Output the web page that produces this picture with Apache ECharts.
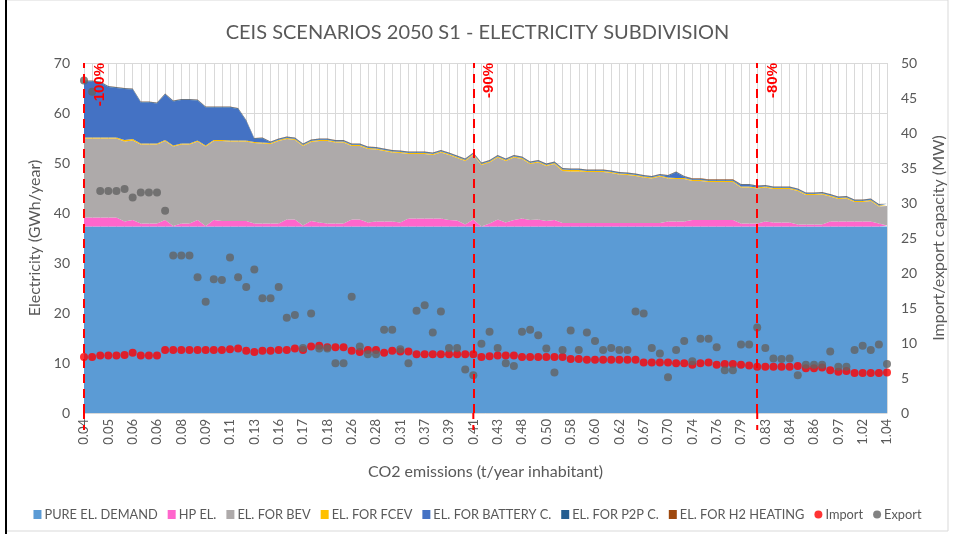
<!DOCTYPE html>
<html>
<head>
<meta charset="utf-8">
<script src="https://cdn.jsdelivr.net/npm/echarts@6/dist/echarts.min.js"></script>
<style>
html,body{margin:0;padding:0;background:#fff;}
#c{width:955px;height:534px;}
</style>
</head>
<body>
<div id="c"></div>
<script>
// ---- DATA ----
const co2 = [
'0.04','0.04','0.04','0.05','0.05','0.05','0.06','0.06','0.06','0.06',
'0.07','0.07','0.08','0.08','0.09','0.09','0.10','0.10','0.11','0.12',
'0.12','0.13','0.14','0.15','0.16','0.16','0.17','0.17','0.17','0.18',
'0.18','0.21','0.24','0.26','0.27','0.27','0.28','0.29','0.30','0.31',
'0.33','0.35','0.37','0.38','0.38','0.39','0.40','0.40','0.41','0.42',
'0.42','0.43','0.45','0.46','0.48','0.49','0.49','0.50','0.53','0.55',
'0.58','0.59','0.59','0.60','0.61','0.61','0.62','0.64','0.65','0.67',
'0.68','0.69','0.70','0.72','0.73','0.74','0.75','0.75','0.76','0.77',
'0.78','0.79','0.80','0.81','0.83','0.83','0.84','0.84','0.85','0.85',
'0.86','0.90','0.94','0.97','0.99','1.00','1.02','1.03','1.03','1.04'];

const pureDemand = [
37.3,37.3,37.3,37.3,37.3,37.3,37.3,37.3,37.3,37.3,
37.3,37.3,37.3,37.3,37.3,37.3,37.3,37.3,37.3,37.3,
37.3,37.3,37.3,37.3,37.3,37.3,37.3,37.3,37.3,37.3,
37.3,37.3,37.3,37.3,37.3,37.3,37.3,37.3,37.3,37.3,
37.3,37.3,37.3,37.3,37.3,37.3,37.3,37.3,37.3,37.3,
37.3,37.3,37.3,37.3,37.3,37.3,37.3,37.3,37.3,37.3,
37.3,37.3,37.3,37.3,37.3,37.3,37.3,37.3,37.3,37.3,
37.3,37.3,37.3,37.3,37.3,37.3,37.3,37.3,37.3,37.3,
37.3,37.3,37.3,37.3,37.3,37.3,37.3,37.3,37.3,37.3,
37.3,37.3,37.3,37.3,37.3,37.3,37.3,37.3,37.3,37.3];

const hpEl = [
1.8,1.8,1.8,1.8,1.8,1.0,1.3,0.6,0.6,0.6,
1.3,0.1,0.6,0.6,1.3,0.1,1.3,1.1,1.1,1.1,
1.1,0.6,0.6,0.6,0.6,1.4,1.4,0.2,1.1,0.8,
0.6,0.6,0.6,1.4,1.4,0.8,1.0,1.0,1.0,0.8,
1.6,1.6,1.6,1.6,1.6,1.3,1.2,0.4,1.4,0.0,
0.6,1.4,0.8,1.3,1.6,1.3,1.4,1.1,1.3,0.7,
0.7,0.7,0.7,0.7,0.7,0.7,0.7,0.7,0.7,0.7,
0.7,0.7,1.0,1.0,1.0,1.3,1.3,1.3,1.3,1.3,
1.3,0.6,0.6,0.6,1.0,0.8,0.8,0.8,0.4,0.4,
0.4,0.4,1.0,1.0,1.0,1.0,1.0,1.0,0.6,0.2];

const bevEl = [
15.8,15.8,15.8,15.8,15.8,16.0,15.9,15.8,15.8,15.8,
15.8,15.9,15.8,15.8,15.7,15.9,15.8,16.0,15.9,15.9,
15.9,16.1,16.0,15.9,16.5,16.1,15.9,15.9,15.8,16.3,
16.5,16.2,16.2,14.7,14.7,14.7,14.4,14.1,13.8,13.9,
12.9,12.9,12.9,12.7,13.2,13.0,12.5,12.7,12.9,12.3,
12.2,12.4,12.3,12.5,11.9,11.2,11.4,11.0,11.2,10.4,
10.3,10.3,10.2,10.2,10.2,10.0,9.7,9.6,9.4,9.1,
8.9,9.3,8.6,8.5,8.5,7.8,7.8,7.6,7.6,7.6,
7.6,7.2,7.2,7.0,6.8,6.7,6.7,6.7,6.7,5.9,
5.9,6.0,5.0,4.5,4.6,3.9,3.9,4.1,3.4,3.9];

const fcevEl = [
0.2,0.2,0.2,0.2,0.2,0.3,0.3,0.2,0.2,0.2,
0.2,0.2,0.2,0.2,0.2,0.2,0.2,0.2,0.2,0.2,
0.2,0.2,0.2,0.2,0.2,0.2,0.2,0.2,0.2,0.2,
0.2,0.2,0.2,0.2,0.2,0.2,0.2,0.2,0.2,0.2,
0.2,0.2,0.2,0.2,0.2,0.2,0.2,0.2,0.2,0.2,
0.2,0.2,0.2,0.2,0.2,0.2,0.2,0.2,0.2,0.3,
0.3,0.3,0.2,0.2,0.2,0.2,0.2,0.2,0.2,0.2,
0.2,0.2,0.2,0.2,0.2,0.2,0.2,0.2,0.2,0.2,
0.2,0.2,0.2,0.2,0.2,0.2,0.2,0.2,0.2,0.2,
0.2,0.2,0.2,0.2,0.2,0.2,0.2,0.2,0.2,0.2];

const batteryEl = [
11.2,11.2,11.0,10.1,9.9,10.2,9.9,8.2,8.2,8.0,
9.1,8.8,8.7,8.7,8.0,7.6,6.5,6.5,6.6,6.3,
3.9,0.6,0.8,0.1,0.1,0.1,0.1,0.1,0.1,0.1,
0.1,0.1,0.1,0.1,0.1,0.1,0.1,0.1,0.1,0.1,
0.1,0.1,0.1,0.1,0.1,0.1,0.1,0.1,0.1,0.1,
0.1,0.1,0.1,0.1,0.1,0.1,0.1,0.1,0.1,0.1,
0.1,0.1,0.1,0.1,0.1,0.1,0.1,0.1,0.1,0.1,
0.1,0.1,0.3,1.1,0.2,0.1,0.1,0.1,0.1,0.1,
0.1,0.3,0.3,0.2,0.1,0.1,0.1,0.1,0.1,0.1,
0.1,0.1,0.1,0.1,0.1,0.1,0.1,0.1,0.1,0.1];

const p2pEl = [
0.15,0.15,0.15,0.15,0.15,0.15,0.15,0.15,0.15,0.15,
0.15,0.15,0.15,0.15,0.15,0.15,0.15,0.15,0.15,0.15,
0.15,0.15,0.15,0.15,0.15,0.15,0.15,0.15,0.15,0.15,
0.15,0.15,0.15,0.15,0.15,0.15,0.15,0.15,0.15,0.15,
0.15,0.15,0.15,0.15,0.15,0.15,0.15,0.15,0.15,0.15,
0.15,0.15,0.15,0.15,0.15,0.15,0.15,0.15,0.15,0.15,
0.15,0.15,0.15,0.15,0.15,0.15,0.15,0.15,0.15,0.15,
0.15,0.15,0.15,0.15,0.15,0.15,0.15,0.15,0.15,0.15,
0.15,0.15,0.15,0.15,0.15,0.15,0.15,0.15,0.15,0.15,
0.15,0.15,0.15,0.15,0.15,0.15,0.15,0.15,0.15,0.15];

const h2HeatingEl = [
0.05,0.05,0.05,0.05,0.05,0.05,0.05,0.05,0.05,0.05,
0.05,0.05,0.05,0.05,0.05,0.05,0.05,0.05,0.05,0.05,
0.05,0.05,0.05,0.05,0.05,0.05,0.05,0.05,0.05,0.05,
0.05,0.05,0.05,0.05,0.05,0.05,0.05,0.05,0.05,0.05,
0.05,0.05,0.05,0.05,0.05,0.05,0.05,0.05,0.05,0.05,
0.05,0.05,0.05,0.05,0.05,0.05,0.05,0.05,0.05,0.05,
0.05,0.05,0.05,0.05,0.05,0.05,0.05,0.05,0.05,0.05,
0.05,0.05,0.05,0.05,0.05,0.1,0.1,0.1,0.1,0.1,
0.1,0.05,0.05,0.05,0.05,0.05,0.05,0.05,0.05,0.05,
0.05,0.05,0.05,0.05,0.05,0.05,0.05,0.05,0.05,0.05];

const importMW = [
8.0,8.0,8.2,8.2,8.2,8.3,8.6,8.2,8.2,8.2,
9.0,9.0,9.0,9.0,9.0,9.0,9.0,9.0,9.1,9.2,
8.9,8.7,8.9,8.9,9.0,9.0,9.2,9.0,9.5,9.6,
9.4,9.4,9.4,8.9,8.7,9.0,9.0,8.6,8.9,8.8,
8.8,8.4,8.4,8.4,8.4,8.4,8.4,8.4,8.4,8.0,
8.1,8.2,8.2,8.2,8.0,8.0,8.0,8.0,8.0,8.0,
7.7,7.7,7.6,7.6,7.6,7.6,7.6,7.6,7.6,7.2,
7.2,7.2,7.2,7.1,7.1,6.9,7.1,7.2,6.9,7.0,
7.0,6.9,6.8,6.6,6.6,6.6,6.6,6.6,6.7,6.4,
6.4,6.5,6.1,5.9,6.0,5.7,5.7,5.7,5.7,5.8];

const exportMW = [
47.5,45.9,31.7,31.7,31.7,32.0,30.8,31.5,31.5,31.5,
28.9,22.5,22.5,22.5,19.4,15.9,19.1,19.0,22.2,19.4,
18.0,20.5,16.4,16.4,18.0,13.6,14.0,9.3,14.2,9.2,
9.2,7.1,7.1,16.6,9.5,8.4,8.4,11.9,11.9,9.1,
7.1,14.6,15.4,11.5,14.5,9.3,9.3,6.2,5.4,9.9,
11.6,9.3,7.1,6.7,11.6,11.9,11.1,9.2,5.8,9.0,
11.8,9.0,11.5,10.3,9.0,9.3,9.0,9.0,14.5,14.2,
9.3,8.5,5.1,9.0,10.3,7.4,10.6,10.6,9.4,6.1,
6.1,9.8,9.8,12.2,9.3,7.8,7.7,7.8,5.4,6.9,
6.9,6.9,8.8,6.6,6.6,9.0,9.6,9.0,9.8,7.0];

const reductionMarks = [
  {idx: 0, label: '-100%'},
  {idx: 48, label: '-90%'},
  {idx: 83, label: '-80%'}
];

const yLeftTicks = {min: 0, max: 70, interval: 10};
const yRightTicks = {min: 0, max: 50, interval: 5};

// ---- CHART ----
const FONT = 'Lato';
const TXT = '#595959';
const chart = echarts.init(document.getElementById('c'), null, {renderer: 'canvas'});

function area(name, data, color, extra) {
  return Object.assign({
    name: name, type: 'line', stack: 'el', data: data,
    symbol: 'none', showSymbol: false,
    lineStyle: {width: 0, color: color},
    itemStyle: {color: color},
    areaStyle: {color: color, opacity: 1},
    emphasis: {disabled: true},
    animation: false, z: 2
  }, extra || {});
}

const option = {
  animation: false,
  textStyle: {fontFamily: FONT},
  title: {
    text: 'CEIS SCENARIOS 2050 S1 - ELECTRICITY SUBDIVISION',
    left: 'center', top: 18,
    textStyle: {fontFamily: FONT, fontSize: 20, fontWeight: 'normal', color: TXT}
  },
  grid: {left: 84, right: 67, top: 63, bottom: 121, containLabel: false},
  legend: {
    bottom: 8, left: 'center',
    itemWidth: 8, itemHeight: 9, itemGap: 10,
    textStyle: {fontFamily: FONT, fontSize: 12.8, color: TXT, padding: [0,0,0,-2]},
    data: [
      {name: 'PURE EL. DEMAND', icon: 'rect'},
      {name: 'HP EL.', icon: 'rect'},
      {name: 'EL. FOR BEV', icon: 'rect'},
      {name: 'EL. FOR FCEV', icon: 'rect'},
      {name: 'EL. FOR BATTERY C.', icon: 'rect'},
      {name: 'EL. FOR P2P C.', icon: 'rect'},
      {name: 'EL. FOR H2 HEATING', icon: 'rect'},
      {name: 'Import', icon: 'circle'},
      {name: 'Export', icon: 'circle'}
    ]
  },
  xAxis: {
    type: 'category', data: co2, boundaryGap: false,
    name: 'CO2 emissions (t/year inhabitant)', nameLocation: 'middle', nameGap: 51,
    nameTextStyle: {fontFamily: FONT, fontSize: 16, color: TXT},
    axisLine: {show: true, lineStyle: {color: '#D9D9D9'}},
    axisTick: {show: false},
    axisLabel: {interval: 2, rotate: 90, fontFamily: FONT, fontSize: 13, color: TXT, margin: 6},
    splitLine: {show: true, interval: 0, lineStyle: {color: '#D9D9D9', width: 1}}
  },
  yAxis: [
    {
      type: 'value', min: yLeftTicks.min, max: yLeftTicks.max, interval: yLeftTicks.interval,
      name: 'Electricity (GWh/year)', nameLocation: 'middle', nameGap: 40, nameRotate: 90,
      nameTextStyle: {fontFamily: FONT, fontSize: 16, color: TXT},
      axisLine: {show: false}, axisTick: {show: false},
      axisLabel: {fontFamily: FONT, fontSize: 14, color: TXT, margin: 14},
      splitLine: {show: true, lineStyle: {color: '#D9D9D9'}}
    },
    {
      type: 'value', min: yRightTicks.min, max: yRightTicks.max, interval: yRightTicks.interval,
      name: 'Import/export capacity (MW)', nameLocation: 'middle', nameGap: 44, nameRotate: 90,
      nameTextStyle: {fontFamily: FONT, fontSize: 16, color: TXT},
      axisLine: {show: false}, axisTick: {show: false},
      axisLabel: {fontFamily: FONT, fontSize: 14, color: TXT, margin: 14},
      splitLine: {show: false}
    }
  ],
  series: [
    area('PURE EL. DEMAND', pureDemand, '#5B9BD5', {
      markLine: {
        silent: true, symbol: 'none', z: 10,
        lineStyle: {color: '#FF0000', type: [9, 6], width: 2},
        label: {
          show: true, position: 'insideEndBottom', distance: [0, 8],
          color: '#FF0000', fontWeight: 'bold', fontSize: 15, fontFamily: 'Liberation Sans',
          formatter: p => p.name
        },
        data: reductionMarks.map(m => ({xAxis: m.idx, name: m.label}))
      }
    }),
    area('HP EL.', hpEl, '#FF66CC'),
    area('EL. FOR BEV', bevEl, '#AEAAAA'),
    area('EL. FOR FCEV', fcevEl, '#FFC000'),
    area('EL. FOR BATTERY C.', batteryEl, '#4472C4'),
    area('EL. FOR P2P C.', p2pEl, '#255E91'),
    area('EL. FOR H2 HEATING', h2HeatingEl, '#9E480E'),
    {
      name: 'Import', type: 'scatter', yAxisIndex: 1, data: importMW,
      symbol: 'circle', symbolSize: 8, itemStyle: {color: '#FF0000'}, z: 4, animation: false
    },
    {
      name: 'Export', type: 'scatter', yAxisIndex: 1, data: exportMW,
      symbol: 'circle', symbolSize: 8, itemStyle: {color: '#636363'}, z: 5, animation: false
    }
  ]
};
chart.setOption(option);

// frame + dashed extensions of the reduction lines below the axis (positions via the chart's own scale)
const y0 = chart.convertToPixel({yAxisIndex: 0}, 0);
const ext = reductionMarks.map(m => {
  const x = chart.convertToPixel({xAxisIndex: 0}, m.idx);
  return {type: 'line', silent: true, z: 20,
    shape: {x1: x, y1: y0, x2: x, y2: y0 + 17},
    style: {stroke: '#FF0000', lineWidth: 2, lineDash: [9, 6], lineDashOffset: 3}};
});
chart.setOption({graphic: [
  {type: 'rect', silent: true, shape: {x: 6, y: 0, width: 942, height: 531}, style: {fill: 'none', stroke: '#D9D9D9', lineWidth: 1}},
  {type: 'line', silent: true, shape: {x1: 6, y1: 0, x2: 6, y2: 534}, style: {stroke: '#000', lineWidth: 2}}
].concat(ext)});
</script>
</body>
</html>
